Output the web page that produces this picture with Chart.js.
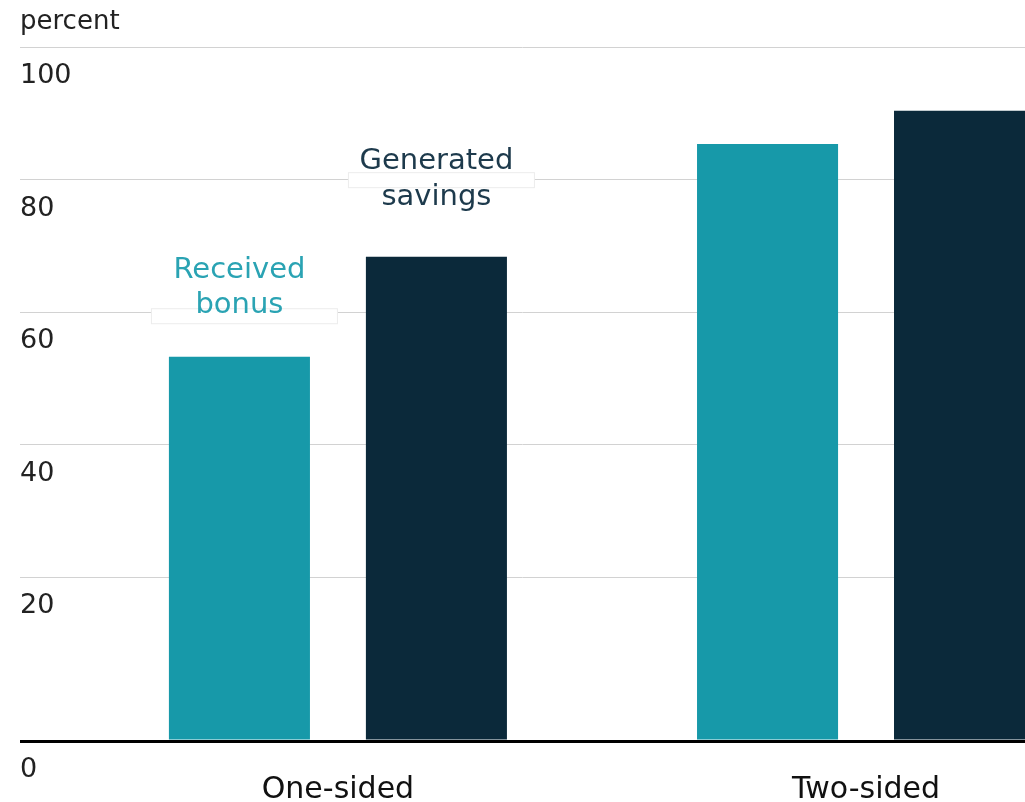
<!DOCTYPE html>
<html>
<head>
<meta charset="utf-8">
<script src="https://cdn.jsdelivr.net/npm/chart.js@4/dist/chart.umd.min.js"></script>
<style>
    html, body { margin: 0; padding: 0; background: #fff; overflow: hidden; }
</style>
</head>
<body>
<canvas id="myChart" width="1025" height="802"></canvas>
<script>
var categories = ["One-sided", "Two-sided"];
var receivedBonus = [53.3, 85.4];
var generatedSavings = [68.4, 90.4];
var seriesLabels = [["Received", "bonus"], ["Generated", "savings"]];
var yTickValues = [20, 40, 60, 80, 100];
// the zero line sits a little under the regular 20-step grid in the original
var yFloor = -4.67;

var colors = ["#1799a9", "#0b293a"];
var textColors = ["#2aa3b3", "#1d3a4c"];
// white patch behind each label (offset from bar top), hides the gridline
var patchOffset = [-48, -84];

var font = "'DejaVu Sans', sans-serif";
Chart.defaults.font.family = font;

function points(values) {
    var out = [];
    for (var i = 0; i < values.length; i++) {
        out.push({x: i, y: values[i]});
    }
    return out;
}

var barLabels = {
    id: "barLabels",
    afterDatasetsDraw: function (chart) {
        var ctx = chart.ctx;
        ctx.save();
        for (var d = 0; d < chart.data.datasets.length; d++) {
            var bar = chart.getDatasetMeta(d).data[0];
            ctx.fillStyle = "#fff";
            ctx.strokeStyle = "#ececec";
            ctx.lineWidth = 1;
            ctx.fillRect(bar.x - 88, bar.y + patchOffset[d], 186, 15);
            ctx.strokeRect(bar.x - 88, bar.y + patchOffset[d], 186, 15);
            ctx.font = "29px " + font;
            ctx.fillStyle = textColors[d];
            ctx.textAlign = "center";
            ctx.textBaseline = "middle";
            ctx.fillText(seriesLabels[d][0], bar.x, bar.y - (d === 0 ? 86 : 95));
            ctx.fillText(seriesLabels[d][1], bar.x, bar.y - (d === 0 ? 51 : 59));
        }
        ctx.restore();
    }
};

var ctx = document.getElementById("myChart").getContext("2d");
var mychart = new Chart(ctx, {
    type: "bar",
    data: {
        datasets: [
            {
                label: seriesLabels[0].join(" "),
                data: points(receivedBonus),
                backgroundColor: colors[0],
                base: yFloor,
                categoryPercentage: 0.746,
                barPercentage: 0.716
            },
            {
                label: seriesLabels[1].join(" "),
                data: points(generatedSavings),
                backgroundColor: colors[1],
                base: yFloor,
                categoryPercentage: 0.746,
                barPercentage: 0.716
            }
        ]
    },
    options: {
        responsive: false,
        animation: false,
        layout: {padding: {left: 20, right: 0, top: 0, bottom: 0}},
        plugins: {
            legend: {display: false},
            tooltip: {enabled: false},
            title: {
                display: true,
                text: "percent",
                align: "start",
                color: "#222",
                font: {size: 26, weight: "normal"},
                padding: {top: 7, bottom: 9}
            }
        },
        scales: {
            x: {
                type: "linear",
                offset: false,
                bounds: "data",
                min: -0.602,
                max: 1.301,
                grid: {display: false},
                border: {display: false},
                afterBuildTicks: function (axis) {
                    axis.ticks = categories.map(function (c, i) { return {value: i}; });
                },
                afterFit: function (axis) {
                    axis.height = 61;
                },
                ticks: {
                    padding: 23,
                    color: "#111",
                    font: {size: 30},
                    maxRotation: 0,
                    autoSkip: false,
                    callback: function (v) { return categories[v]; }
                }
            },
            y: {
                type: "linear",
                bounds: "data",
                min: yFloor,
                max: 100,
                border: {display: false},
                afterBuildTicks: function (axis) {
                    axis.ticks = [{value: yFloor}].concat(yTickValues.map(function (v) { return {value: v}; }));
                },
                grid: {
                    drawTicks: false,
                    color: function (c) { return c.tick && c.tick.value === yFloor ? "#000" : "#d2d2d2"; },
                    lineWidth: function (c) { return c.tick && c.tick.value === yFloor ? 3 : 1; }
                },
                ticks: {
                    mirror: true,
                    padding: 0,
                    labelOffset: 29,
                    color: "#222",
                    font: {size: 27},
                    callback: function (v) { return v === yFloor ? "0" : v; }
                }
            }
        }
    },
    plugins: [barLabels]
});
</script>
</body>
</html>
